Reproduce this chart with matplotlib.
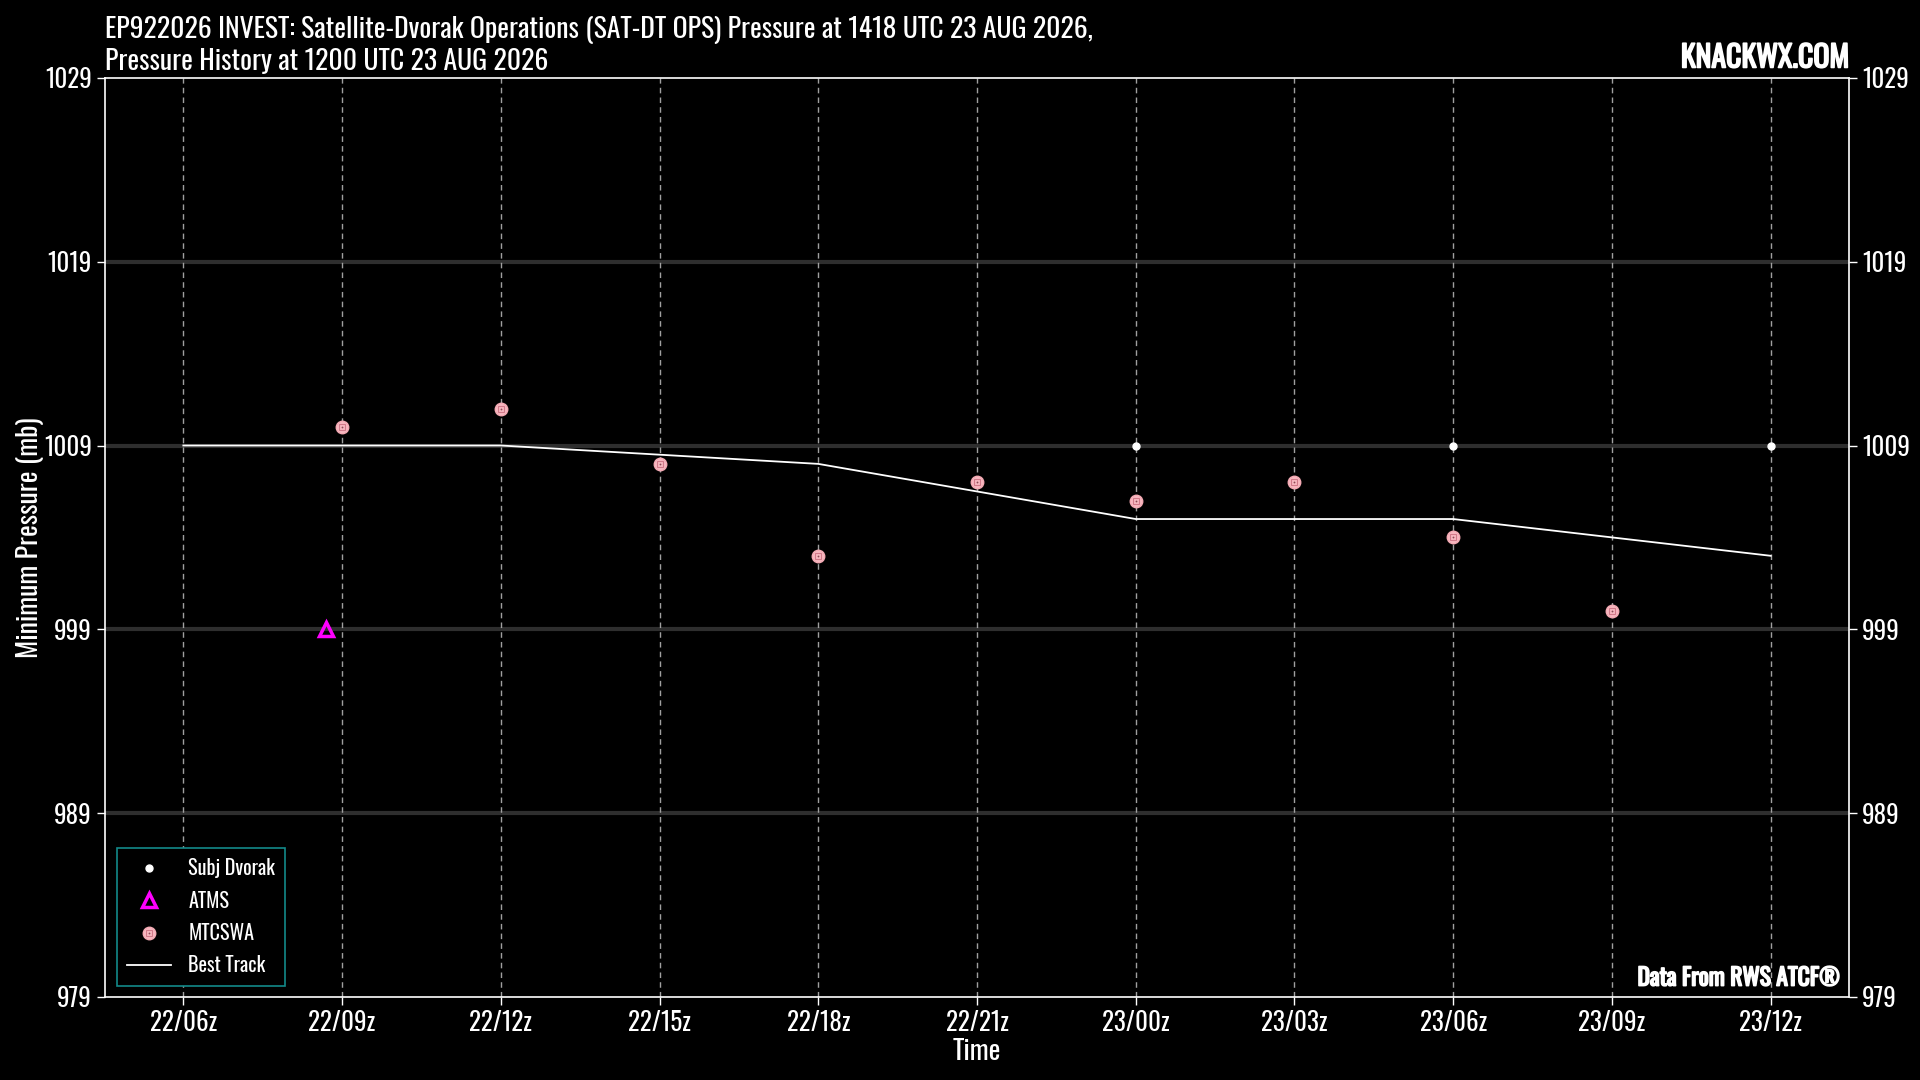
import matplotlib
matplotlib.use("Agg")
import matplotlib.pyplot as plt
import matplotlib.patheffects as pe
from matplotlib.legend_handler import HandlerTuple

plt.rcParams['font.family'] = ['Oswald', 'DejaVu Sans']

# hours since 22 AUG 00z
tick_hours = [6, 9, 12, 15, 18, 21, 24, 27, 30, 33, 36]
tick_labels = ['22/06z', '22/09z', '22/12z', '22/15z', '22/18z', '22/21z',
               '23/00z', '23/03z', '23/06z', '23/09z', '23/12z']

dvorak_hours = [24, 30, 36]
dvorak_mb = [1009, 1009, 1009]

atms_hours = [8.7]
atms_mb = [999]

mtcswa_hours = [9, 12, 15, 18, 21, 24, 27, 30, 33]
mtcswa_mb = [1010, 1011, 1008, 1003, 1007, 1006, 1007, 1004, 1000]

bt_hours = [6, 12, 18, 24, 30, 36]
bt_mb = [1009, 1009, 1008, 1005, 1005, 1003]

y_ticks = [979, 989, 999, 1009, 1019, 1029]

fig = plt.figure(figsize=(19.2, 10.8), dpi=100, facecolor='black')
ax = fig.add_axes([0.0547, 0.0769, 0.9083, 0.851])
ax.set_facecolor('black')

ax.set_xlim(4.52, 37.48)
ax.set_ylim(979, 1029)

# grid
for y in y_ticks[1:-1]:
    ax.axhline(y, color='#2e2e2e', lw=3, zorder=1)
for x in tick_hours:
    ax.axvline(x, color='#a0a0a0', lw=1, ls=(0, (4, 3)), zorder=1)

bt, = ax.plot(bt_hours, bt_mb, color='white', lw=1.3, zorder=3)
dv, = ax.plot(dvorak_hours, dvorak_mb, ls='none', marker='o', ms=5,
              mfc='white', mec='white', zorder=5)
at, = ax.plot(atms_hours, atms_mb, ls='none', marker='^', ms=10.5,
              mfc='none', mec='magenta', mew=2.5, zorder=5)
mt1, = ax.plot(mtcswa_hours, mtcswa_mb, ls='none', marker='o', ms=9,
               mfc='#f8b8c0', mec='#f4aab4', mew=1, zorder=5)
mt2, = ax.plot(mtcswa_hours, mtcswa_mb, ls='none', marker='s', ms=4.2,
               mfc='none', mec='#d27a8a', mew=0.8, zorder=6)
mt3, = ax.plot(mtcswa_hours, mtcswa_mb, ls='none', marker='o', ms=1.3,
               mfc='#8a4a55', mec='none', zorder=7)

ax.set_xticks(tick_hours)
ax.set_xticklabels(tick_labels)
ax.set_yticks(y_ticks)
ax.tick_params(colors='white', labelsize=18, length=6, width=1,
               labelright=True, right=True)
for s in ax.spines.values():
    s.set_color('white')
    s.set_linewidth(1.2)

ax.set_xlabel('Time', color='white', fontsize=20, labelpad=1)
ax.set_ylabel('Minimum Pressure (mb)', color='white', fontsize=20, labelpad=0)

leg = ax.legend([dv, at, (mt1, mt2, mt3), bt],
                ['Subj Dvorak', 'ATMS', 'MTCSWA', 'Best Track'],
                handler_map={tuple: HandlerTuple(ndivide=1, pad=0)},
                loc='lower left', bbox_to_anchor=(0.0045, 0.008),
                fontsize=14.5, facecolor='black', edgecolor='#138a8a',
                labelcolor='white', framealpha=1, fancybox=False,
                handlelength=2.2, handletextpad=0.85, borderpad=0.5,
                borderaxespad=0.2, labelspacing=0.62)
leg.get_frame().set_linewidth(1.2)

fig.text(0.0547, 0.931,
         'EP922026 INVEST: Satellite-Dvorak Operations (SAT-DT OPS) Pressure at 1418 UTC 23 AUG 2026,\n'
         'Pressure History at 1200 UTC 23 AUG 2026',
         color='white', fontsize=20, ha='left', va='bottom', linespacing=1.15)
bold = [pe.withStroke(linewidth=1.2, foreground='white')]
fig.text(0.963, 0.932, 'KNACKWX.COM', color='white', fontsize=21.5,
         fontweight='bold', ha='right', va='bottom', path_effects=bold)
ax.text(0.995, 0.008, 'Data From RWS ATCF®', color='white', fontsize=17,
        fontweight='bold', ha='right', va='bottom', transform=ax.transAxes,
        path_effects=bold)

fig.savefig('out.png', dpi=100, facecolor='black')
